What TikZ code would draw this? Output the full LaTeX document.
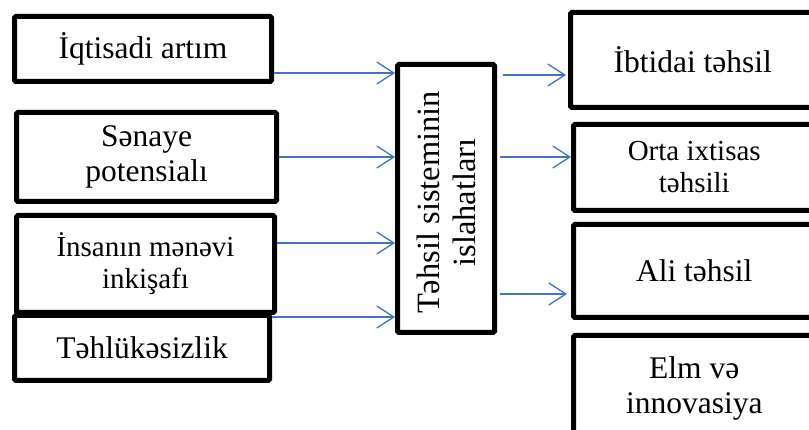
\documentclass[tikz,border=0pt]{standalone}
\usepackage{fontspec}
\setmainfont{Liberation Serif}
\usetikzlibrary{arrows.meta,calc}
\definecolor{arrblue}{RGB}{68,114,196}
\begin{document}
\begin{tikzpicture}[x=1pt,y=-1pt,
  box/.style={draw, line width=5pt, rounded corners=1.5pt, inner sep=0pt, align=center,
    font=\fontsize{31.5}{35}\selectfont},
  smallfont/.style={font=\fontsize{29}{32}\selectfont},
  txt/.style={align=center, inner sep=0pt, font=\fontsize{31.5}{35}\selectfont},
  arr/.style={draw=arrblue, line width=1.3pt, -{Straight Barb[length=17pt,width=22pt]}}]
\useasboundingbox (0,0) rectangle (809,430);
\fill[white] (0,0) rectangle (809,430);
\clip (0,0) rectangle (809,430);
% left boxes
\node[box, minimum width=257pt, minimum height=65pt] (L1) at (143,49) {İqtisadi artım};
\node[box, minimum width=260pt, minimum height=89pt] (L2) at (146.5,157) {Sənaye\\potensialı};
\node[box, smallfont, minimum width=258pt, minimum height=97pt] (L3) at (145.5,264) {İnsanın mənəvi\\inkişafı};
\node[box, minimum width=255pt, minimum height=65pt] (L4) at (142,348) {Təhlükəsizlik};
% centre box
\node[box, minimum width=97pt, minimum height=268pt] (C) at (446,198.5) {};
\node[txt, rotate=90, font=\fontsize{32.5}{36}\selectfont] (Ct) at ([yshift=-4pt]C.center) {Təhsil sisteminin\\islahatları};
% right boxes
\node[box, minimum width=244.5pt, minimum height=95pt] (R1) at (692.75,60) {İbtidai təhsil};
\node[box, smallfont, minimum width=241.5pt, minimum height=86pt] (R2) at (694.25,167.5) {Orta ixtisas\\təhsili};
\node[box, minimum width=241.5pt, minimum height=93pt] (R3) at (694.25,271) {Ali təhsil};
\node[box, minimum width=241.5pt, minimum height=134.5pt] (R4) at (694.25,402.75) {};
\node[txt] (R4t) at (694.25,388) {Elm və\\innovasiya};
% arrows into centre
\coordinate (a1) at ([yshift=-24pt]L1.east);
\coordinate (a2) at (L2.east);
\coordinate (a3) at ([yshift=21pt]L3.east);
\coordinate (a4) at ([yshift=31pt]L4.east);
\draw[arr] (a1) -- (a1 -| C.west);
\draw[arr] (a2) -- (a2 -| C.west);
\draw[arr] (a3) -- (a3 -| C.west);
\draw[arr] (a4) -- (a4 -| C.west);
% arrows out of centre
\coordinate (b1) at ([yshift=-15pt]R1.west);
\coordinate (b2) at ([yshift=10.5pt]R2.west);
\coordinate (b3) at ([yshift=-23pt]R3.west);
\draw[arr] ($(C.east |- b1)+(6pt,0)$) -- ($(b1)+(-2pt,0)$);
\draw[arr] ($(C.east |- b2)+(3pt,0)$) -- (b2);
\draw[arr] ($(C.east |- b3)+(3pt,0)$) -- ($(b3)+(-4pt,0)$);
\end{tikzpicture}
\end{document}
